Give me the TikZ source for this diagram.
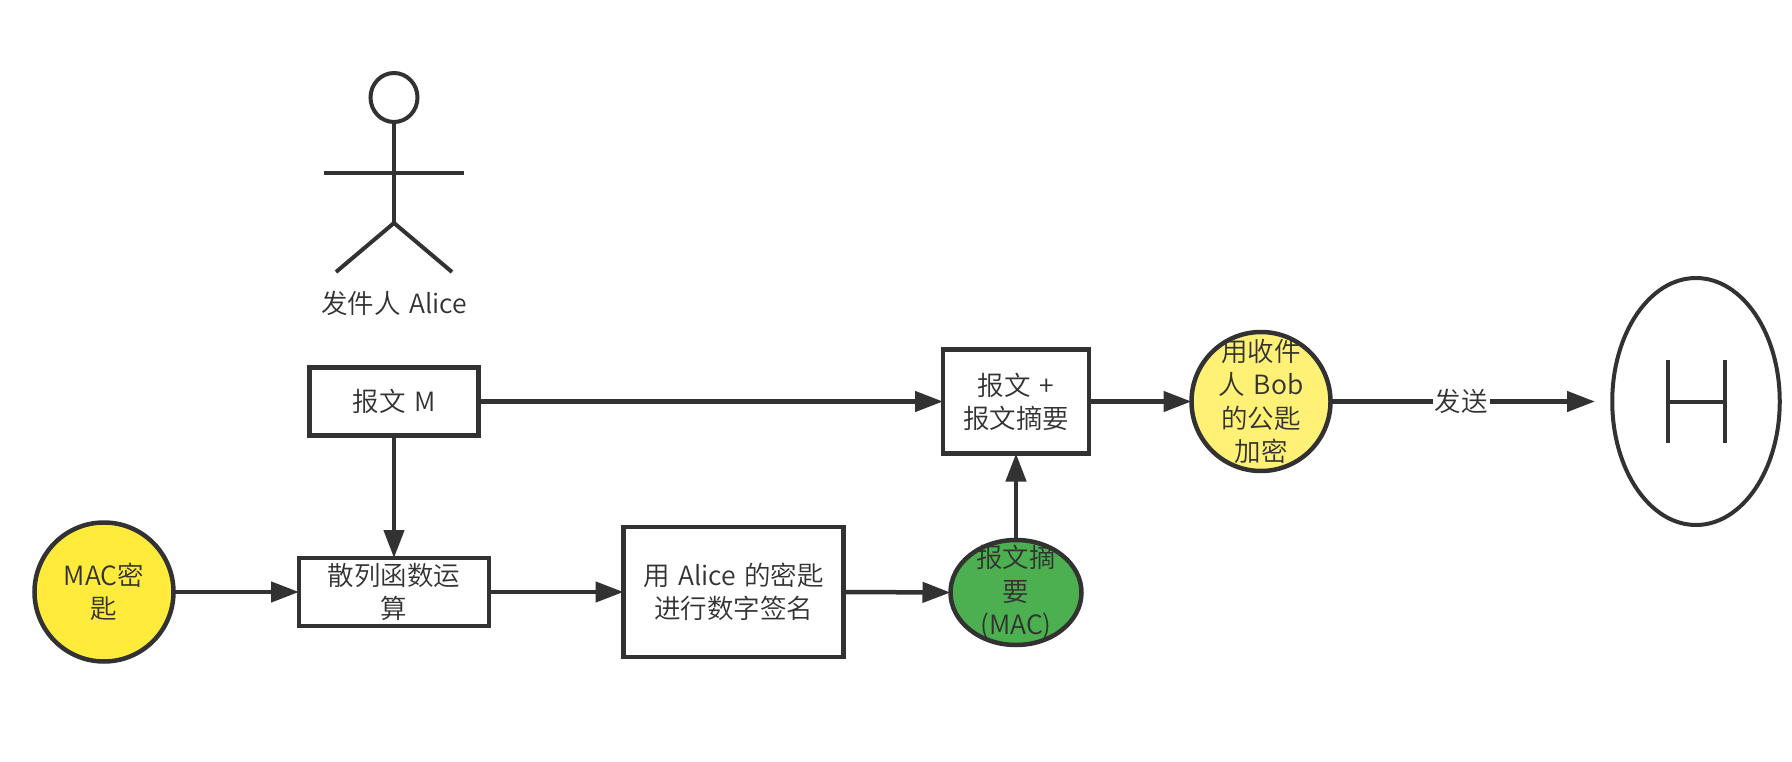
\documentclass[tikz,border=0pt]{standalone}
\usepackage{fontspec}
\setmainfont{Noto Sans CJK SC}[UprightFont={* DemiLight},WordSpace=1.45]
\usetikzlibrary{arrows.meta,shapes.geometric}
\definecolor{ink}{HTML}{323232}
\definecolor{keyyellow}{HTML}{FFEB3B}
\definecolor{softyellow}{HTML}{FFF176}
\definecolor{macgreen}{HTML}{4CAF50}
\tikzset{
  txt/.style={text=ink,font=\fontsize{26.5}{33.2}\selectfont,align=center,inner sep=0pt,outer sep=0pt},
  boxnode/.style={draw=ink,line width=4.5pt,fill=white,rectangle,inner sep=0pt,outer sep=0pt,txt},
  round/.style={draw=ink,line width=4.5pt,ellipse,inner sep=0pt,outer sep=0pt},
  conn/.style={draw=ink,line width=4.5pt,-{Triangle[length=28pt,width=20pt]}},
  thin/.style={draw=ink,line width=4pt},
}
\begin{document}
\begin{tikzpicture}[x=1pt,y=-1pt]
\useasboundingbox (0,0) rectangle (1792,762);
% actor
\node[thin,ellipse,inner sep=0pt,outer sep=0pt,minimum width=47pt,minimum height=49pt] (head) at (394,97.5) {};
\coordinate (hip) at (394,223);
\coordinate (armL) at (324,173);
\coordinate (armR) at (464,173);
\coordinate (legL) at (336,272);
\coordinate (legR) at (452,272);
\draw[thin] (head.south) -- (hip);
\draw[thin] (armL) -- (armR);
\draw[thin] (legL) -- (hip) -- (legR);
\node[txt] (alice) at (394,303) {发件人 Alice};
% nodes
\node[boxnode,minimum width=169pt,minimum height=68pt] (msg) at (394,401.5) {报文 M};
\node[boxnode,minimum width=190pt,minimum height=68pt,text width=150pt] (hash) at (394,592) {散列函数运\\算};
\node[boxnode,minimum width=220pt,minimum height=130pt] (sign) at (733.5,592) {用 Alice 的密匙\\进行数字签名};
\node[boxnode,minimum width=146pt,minimum height=104pt] (comb) at (1016,401.5) {报文 +\\报文摘要};
\node[round,fill=keyyellow,minimum width=139pt,minimum height=139pt,label={[txt]center:{MAC密\\匙}}] (key) at (104,592) {};
\node[round,fill=macgreen,minimum width=131pt,minimum height=105pt,label={[txt]center:{报文摘\\要\\(MAC)}}] (mac) at (1016,592.5) {};
\node[round,fill=softyellow,minimum width=139pt,minimum height=139pt,label={[txt]center:{用收件\\人 Bob\\的公匙\\加密}}] (enc) at (1261,401.5) {};
\node[thin,ellipse,inner sep=0pt,outer sep=0pt,minimum width=167.5pt,minimum height=247pt] (bob) at (1696,401.5) {};
% H mark in the receiver
\coordinate (ha) at (1668,360);
\coordinate (hb) at (1668,443);
\coordinate (hc) at (1725,360);
\coordinate (hd) at (1725,443);
\coordinate (he) at (1668,401.5);
\coordinate (hf) at (1725,401.5);
\draw[thin] (ha) -- (hb);
\draw[thin] (hc) -- (hd);
\draw[thin] (he) -- (hf);
% connectors
\coordinate (sendend) at (1595,401.5);
\draw[conn] (msg.east) -- (comb.west);
\draw[conn] (msg.south) -- (hash.north);
\draw[conn] (key.east) -- (hash.west);
\draw[conn] (hash.east) -- (sign.west);
\draw[conn] (sign.east) -- (mac.west);
\draw[conn] (mac.north) -- (comb.south);
\draw[conn] (comb.east) -- (enc.west);
\draw[conn] (enc.east) -- node[txt,fill=white,pos=0.495,inner xsep=2pt] (send) {发送} (sendend);
\end{tikzpicture}
\end{document}
